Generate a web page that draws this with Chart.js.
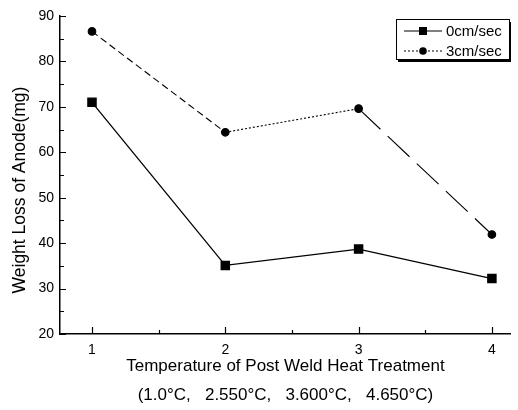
<!DOCTYPE html>
<html>
<head>
<meta charset="utf-8">
<script src="https://cdn.jsdelivr.net/npm/chart.js@4"></script>
<style>
  html, body { margin: 0; padding: 0; background: #fff; }
  #wrap { width: 518px; height: 410px; position: relative; }
</style>
</head>
<body>
<div id="wrap"><canvas id="chart"></canvas></div>
<script>
// temperatures (index on x axis)
const positions = [1, 2, 3, 4];
const series0 = [71, 35.1, 38.7, 32.2]; // 0cm/sec
const series3 = [86.6, 64.4, 69.6, 41.9]; // 3cm/sec
const seriesNames = ["0cm/sec", "3cm/sec"];
const yTicks = [20, 30, 40, 50, 60, 70, 80, 90];
const xTicks = [1, 2, 3, 4];
const yTitle = "Weight Loss of Anode(mg)";
const xTitle = ["Temperature of Post Weld Heat Treatment", "(1.0\u00B0C,   2.550\u00B0C,   3.600\u00B0C,   4.650\u00B0C)"];

const FONT = "'Liberation Sans', Arial, sans-serif";

// 3cm/sec line changes style segment to segment
const seg3Dash = [[7, 4], [2, 2], [30, 10]];

const toPoints = (ys) => positions.map((x, i) => ({ x, y: ys[i] }));

// ticks pointing into the plot, plus the minor ones in between
const insideTicks = {
  id: "insideTicks",
  afterDraw(chart) {
    const { ctx, chartArea, scales } = chart;
    ctx.save();
    ctx.strokeStyle = "#000";
    ctx.lineWidth = 1.2;
    ctx.beginPath();
    for (let v = 20; v <= 90; v += 5) {
      const y = Math.round(scales.y.getPixelForValue(v)) + 0.5;
      const len = v % 10 === 0 ? 6 : 4;
      ctx.moveTo(chartArea.left, y);
      ctx.lineTo(chartArea.left + len, y);
    }
    for (let v = 1; v <= 4; v += 0.5) {
      const x = Math.round(scales.x.getPixelForValue(v)) + 0.5;
      const len = Number.isInteger(v) ? 7 : 4;
      ctx.moveTo(x, chartArea.bottom);
      ctx.lineTo(x, chartArea.bottom - len);
    }
    ctx.stroke();
    ctx.restore();
  },
};

// y title sits a bit below the middle of the axis in the original
const yAxisTitle = {
  id: "yAxisTitle",
  afterDraw(chart) {
    const { ctx, chartArea } = chart;
    ctx.save();
    ctx.translate(20, (chartArea.top + chartArea.bottom) / 2 + 15);
    ctx.rotate(-Math.PI / 2);
    ctx.font = "17.5px " + FONT;
    ctx.fillStyle = "#000";
    ctx.textAlign = "center";
    ctx.textBaseline = "middle";
    ctx.fillText(yTitle, 0, 0);
    ctx.restore();
  },
};

// legend box with a line sample and marker, shadowed like the original
const boxLegend = {
  id: "boxLegend",
  afterDraw(chart) {
    const { ctx, chartArea } = chart;
    const w = 113, h = 40;
    const x0 = 396, y0 = chartArea.top + 3;
    ctx.save();
    ctx.fillStyle = "#000";
    ctx.fillRect(x0 + 2, y0 + 3, w, h);
    ctx.fillStyle = "#fff";
    ctx.fillRect(x0, y0, w, h);
    ctx.strokeStyle = "#000";
    ctx.lineWidth = 1;
    ctx.strokeRect(x0 + 0.5, y0 + 0.5, w, h);
    chart.data.datasets.forEach((ds, i) => {
      const y = y0 + 12 + i * 20;
      ctx.beginPath();
      ctx.setLineDash(i === 0 ? [] : [2, 2]);
      ctx.lineWidth = 1.2;
      ctx.moveTo(x0 + 8, y);
      ctx.lineTo(x0 + 46, y);
      ctx.stroke();
      ctx.setLineDash([]);
      ctx.fillStyle = "#000";
      if (ds.pointStyle === "rect") {
        ctx.fillRect(x0 + 23, y - 4, 8, 8);
      } else {
        ctx.beginPath();
        ctx.arc(x0 + 27, y, 3.8, 0, Math.PI * 2);
        ctx.fill();
      }
      ctx.font = "15px " + FONT;
      ctx.textBaseline = "middle";
      ctx.fillText(ds.label, x0 + 50, y + 1);
    });
    ctx.restore();
  },
};

new Chart(document.getElementById("chart"), {
  type: "line",
  data: {
    datasets: [
      {
        label: seriesNames[0],
        data: toPoints(series0),
        borderColor: "#000",
        backgroundColor: "#000",
        borderWidth: 1.3,
        pointStyle: "rect",
        pointRadius: 5.8,
      },
      {
        label: seriesNames[1],
        data: toPoints(series3),
        borderColor: "#000",
        backgroundColor: "#000",
        borderWidth: 1.1,
        pointStyle: "circle",
        pointRadius: 3.8,
        segment: {
          borderDash: (c) => seg3Dash[c.p0DataIndex],
        },
      },
    ],
  },
  options: {
    responsive: true,
    maintainAspectRatio: false,
    animation: false,
    layout: { padding: { top: 16, right: 0, left: 0, bottom: 0 } },
    plugins: { legend: { display: false }, tooltip: { enabled: false } },
    scales: {
      x: {
        type: "linear",
        min: 0.76,
        max: 4.1425,
        grid: { display: false, drawTicks: false },
        border: { display: true, color: "#000", width: 1.5 },
        afterBuildTicks: (s) => { s.ticks = xTicks.map((v) => ({ value: v })); },
        afterFit: (s) => { s.height = 76; },
        ticks: {
          color: "#000",
          padding: 8,
          font: { family: FONT, size: 14 },
        },
        title: {
          display: true,
          text: xTitle,
          color: "#000",
          font: { family: FONT, size: 17, lineHeight: 1.7 },
          padding: { top: 0, bottom: 0 },
        },
      },
      y: {
        min: 20,
        max: 90,
        grid: { display: false, drawTicks: false },
        border: { display: true, color: "#000", width: 1.5 },
        afterBuildTicks: (s) => { s.ticks = yTicks.map((v) => ({ value: v })); },
        afterFit: (s) => { s.width = 60; },
        ticks: {
          color: "#000",
          padding: 6,
          font: { family: FONT, size: 14 },
        },
        title: { display: false },
      },
    },
  },
  plugins: [insideTicks, yAxisTitle, boxLegend],
});
</script>
</body>
</html>
